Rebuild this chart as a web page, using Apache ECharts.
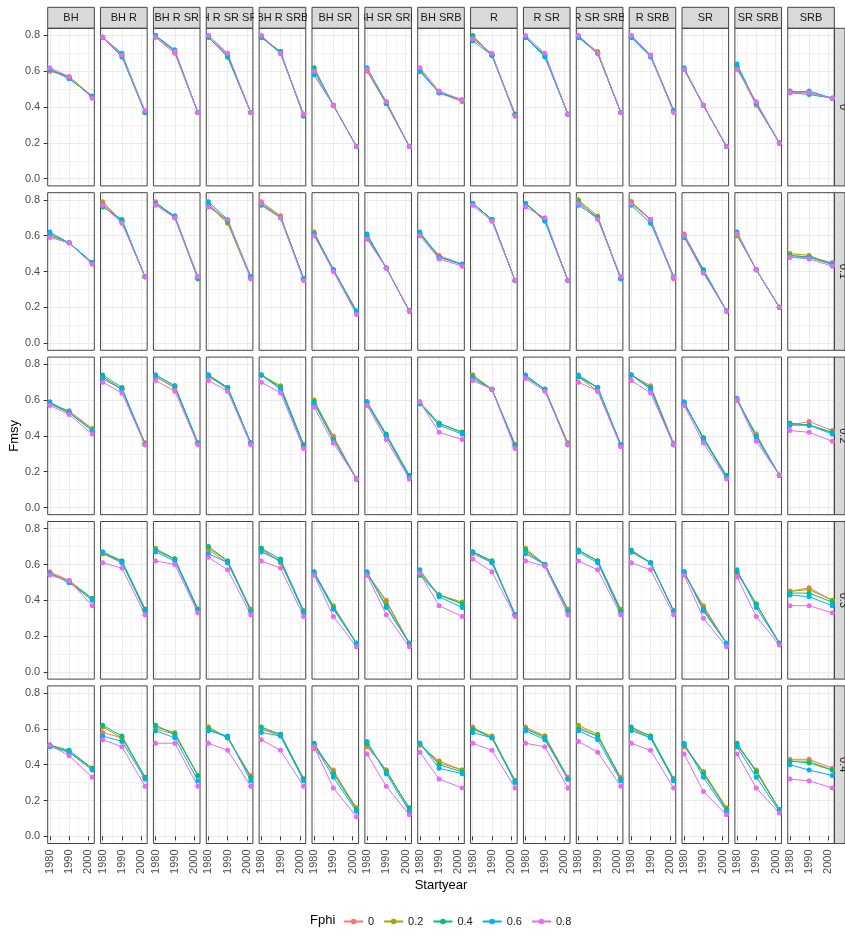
<!DOCTYPE html>
<html><head><meta charset="utf-8">
<script src="https://cdn.jsdelivr.net/npm/echarts@6/dist/echarts.min.js"></script>
<style>html,body{margin:0;padding:0;background:#fff}#c{width:845px;height:936px}</style>
</head><body><div id="c"></div>
<script>
// ---------- data ----------
const columns = ['BH','BH R','BH R SR','BH R SR SRB','BH R SRB','BH SR','BH SR SRB','BH SRB','R','R SR','R SR SRB','R SRB','SR','SR SRB','SRB'];
const rowLabels = ['0','0.1','0.2','0.3','0.4'];
const fphiLevels = ['0','0.2','0.4','0.6','0.8'];
const startYears = [1980, 1990, 2002];
const xTickLabels = [1980, 1990, 2000];
const xMinorBreaks = [1985, 1995];
const yTickLabels = [0, 0.2, 0.4, 0.6, 0.8];
const yMinorBreaks = [0.1, 0.3, 0.5, 0.7];

// each row: per column, per Fphi level [0,0.2,0.4,0.6,0.8], values for startYears
const row0 = [
 [[0.60,0.57,0.46],[0.61,0.57,0.46],[0.61,0.56,0.46],[0.61,0.56,0.46],[0.62,0.57,0.45]],
 [[0.79,0.69,0.37],[0.79,0.69,0.37],[0.79,0.68,0.37],[0.79,0.70,0.37],[0.79,0.69,0.38]],
 [[0.79,0.70,0.37],[0.80,0.71,0.37],[0.80,0.71,0.37],[0.80,0.72,0.37],[0.79,0.71,0.37]],
 [[0.80,0.69,0.37],[0.79,0.68,0.37],[0.79,0.68,0.37],[0.80,0.69,0.37],[0.80,0.70,0.37]],
 [[0.80,0.70,0.36],[0.79,0.71,0.35],[0.79,0.71,0.35],[0.79,0.70,0.36],[0.80,0.70,0.36]],
 [[0.60,0.41,0.18],[0.61,0.41,0.18],[0.62,0.41,0.18],[0.58,0.41,0.18],[0.60,0.41,0.18]],
 [[0.60,0.42,0.18],[0.61,0.42,0.18],[0.61,0.42,0.18],[0.62,0.43,0.18],[0.61,0.43,0.18]],
 [[0.61,0.48,0.43],[0.61,0.48,0.44],[0.60,0.48,0.44],[0.60,0.48,0.44],[0.62,0.49,0.44]],
 [[0.79,0.69,0.36],[0.79,0.69,0.36],[0.80,0.69,0.36],[0.77,0.69,0.35],[0.78,0.70,0.35]],
 [[0.79,0.69,0.36],[0.79,0.69,0.36],[0.79,0.69,0.36],[0.79,0.68,0.36],[0.80,0.70,0.36]],
 [[0.80,0.70,0.37],[0.79,0.71,0.37],[0.79,0.70,0.37],[0.79,0.70,0.37],[0.80,0.70,0.37]],
 [[0.80,0.69,0.38],[0.79,0.69,0.38],[0.79,0.69,0.38],[0.79,0.68,0.38],[0.80,0.69,0.37]],
 [[0.61,0.41,0.18],[0.61,0.41,0.18],[0.61,0.41,0.18],[0.62,0.41,0.18],[0.61,0.41,0.18]],
 [[0.62,0.41,0.20],[0.62,0.42,0.20],[0.63,0.42,0.20],[0.64,0.42,0.20],[0.61,0.43,0.20]],
 [[0.49,0.48,0.45],[0.49,0.48,0.45],[0.48,0.47,0.45],[0.48,0.49,0.45],[0.48,0.48,0.45]]
];
const row1 = [
 [[0.61,0.56,0.45],[0.61,0.56,0.45],[0.60,0.56,0.45],[0.62,0.56,0.45],[0.59,0.56,0.44]],
 [[0.79,0.68,0.37],[0.78,0.68,0.37],[0.76,0.69,0.37],[0.77,0.68,0.37],[0.77,0.67,0.37]],
 [[0.79,0.70,0.37],[0.78,0.70,0.36],[0.78,0.71,0.36],[0.78,0.71,0.37],[0.77,0.70,0.37]],
 [[0.78,0.68,0.37],[0.77,0.67,0.36],[0.77,0.68,0.37],[0.79,0.69,0.37],[0.76,0.69,0.36]],
 [[0.79,0.71,0.36],[0.78,0.71,0.36],[0.77,0.70,0.36],[0.78,0.70,0.36],[0.78,0.70,0.35]],
 [[0.61,0.41,0.17],[0.62,0.41,0.17],[0.61,0.41,0.18],[0.61,0.41,0.18],[0.60,0.40,0.16]],
 [[0.59,0.42,0.18],[0.60,0.42,0.18],[0.61,0.42,0.18],[0.60,0.42,0.18],[0.58,0.42,0.18]],
 [[0.61,0.49,0.44],[0.61,0.48,0.44],[0.62,0.48,0.44],[0.61,0.48,0.44],[0.60,0.47,0.43]],
 [[0.78,0.69,0.35],[0.78,0.69,0.35],[0.78,0.69,0.35],[0.78,0.69,0.35],[0.77,0.68,0.35]],
 [[0.78,0.69,0.35],[0.78,0.69,0.35],[0.78,0.69,0.35],[0.78,0.68,0.35],[0.76,0.70,0.35]],
 [[0.79,0.70,0.36],[0.80,0.71,0.36],[0.79,0.70,0.36],[0.77,0.70,0.36],[0.78,0.69,0.37]],
 [[0.79,0.69,0.36],[0.79,0.69,0.37],[0.78,0.69,0.37],[0.77,0.67,0.37],[0.78,0.69,0.37]],
 [[0.61,0.41,0.18],[0.60,0.40,0.18],[0.60,0.41,0.18],[0.59,0.40,0.18],[0.60,0.39,0.18]],
 [[0.61,0.41,0.20],[0.60,0.41,0.20],[0.61,0.41,0.20],[0.62,0.41,0.20],[0.61,0.41,0.20]],
 [[0.49,0.48,0.45],[0.50,0.49,0.44],[0.49,0.48,0.44],[0.48,0.48,0.44],[0.48,0.47,0.43]]
];
const row2 = [
 [[0.58,0.53,0.44],[0.58,0.54,0.44],[0.58,0.53,0.43],[0.59,0.53,0.43],[0.57,0.52,0.41]],
 [[0.73,0.66,0.36],[0.73,0.66,0.36],[0.74,0.67,0.35],[0.72,0.66,0.35],[0.70,0.64,0.35]],
 [[0.73,0.67,0.36],[0.73,0.67,0.36],[0.74,0.68,0.36],[0.74,0.68,0.36],[0.71,0.65,0.35]],
 [[0.74,0.67,0.36],[0.73,0.67,0.36],[0.74,0.67,0.36],[0.74,0.66,0.36],[0.71,0.65,0.35]],
 [[0.74,0.67,0.35],[0.74,0.68,0.35],[0.74,0.67,0.35],[0.74,0.66,0.34],[0.70,0.64,0.33]],
 [[0.59,0.40,0.16],[0.60,0.39,0.16],[0.59,0.38,0.16],[0.58,0.38,0.16],[0.56,0.36,0.16]],
 [[0.58,0.40,0.17],[0.58,0.40,0.17],[0.59,0.41,0.18],[0.59,0.40,0.17],[0.57,0.38,0.16]],
 [[0.59,0.47,0.42],[0.58,0.47,0.42],[0.58,0.47,0.42],[0.58,0.46,0.41],[0.59,0.42,0.38]],
 [[0.74,0.66,0.35],[0.74,0.66,0.35],[0.73,0.66,0.35],[0.72,0.66,0.34],[0.71,0.66,0.33]],
 [[0.73,0.66,0.36],[0.73,0.66,0.36],[0.73,0.66,0.35],[0.74,0.66,0.35],[0.72,0.65,0.35]],
 [[0.73,0.67,0.35],[0.73,0.65,0.35],[0.73,0.67,0.35],[0.74,0.67,0.35],[0.70,0.65,0.34]],
 [[0.74,0.68,0.36],[0.74,0.67,0.35],[0.74,0.67,0.35],[0.74,0.66,0.35],[0.71,0.64,0.35]],
 [[0.58,0.39,0.17],[0.58,0.39,0.17],[0.58,0.39,0.18],[0.59,0.38,0.17],[0.57,0.36,0.16]],
 [[0.60,0.41,0.18],[0.60,0.40,0.18],[0.60,0.40,0.18],[0.61,0.39,0.18],[0.60,0.37,0.18]],
 [[0.46,0.48,0.43],[0.47,0.46,0.42],[0.47,0.46,0.42],[0.46,0.46,0.41],[0.43,0.42,0.37]]
];
const row3 = [
 [[0.56,0.51,0.41],[0.55,0.51,0.41],[0.55,0.50,0.41],[0.55,0.50,0.40],[0.54,0.51,0.37]],
 [[0.66,0.61,0.35],[0.66,0.62,0.35],[0.67,0.62,0.35],[0.67,0.61,0.34],[0.61,0.58,0.32]],
 [[0.68,0.63,0.35],[0.69,0.63,0.35],[0.68,0.63,0.35],[0.67,0.62,0.34],[0.62,0.60,0.33]],
 [[0.68,0.61,0.35],[0.69,0.62,0.35],[0.70,0.62,0.34],[0.66,0.61,0.34],[0.64,0.57,0.32]],
 [[0.68,0.62,0.34],[0.69,0.61,0.34],[0.69,0.63,0.34],[0.67,0.62,0.33],[0.62,0.58,0.31]],
 [[0.55,0.36,0.16],[0.55,0.37,0.16],[0.56,0.36,0.16],[0.55,0.35,0.16],[0.54,0.31,0.14]],
 [[0.55,0.40,0.16],[0.55,0.39,0.16],[0.55,0.37,0.16],[0.56,0.36,0.16],[0.54,0.32,0.14]],
 [[0.56,0.43,0.38],[0.55,0.43,0.39],[0.54,0.43,0.38],[0.57,0.42,0.36],[0.55,0.37,0.31]],
 [[0.66,0.61,0.32],[0.67,0.62,0.32],[0.67,0.62,0.32],[0.67,0.61,0.32],[0.63,0.56,0.31]],
 [[0.67,0.60,0.35],[0.69,0.60,0.35],[0.68,0.60,0.34],[0.66,0.60,0.34],[0.62,0.59,0.32]],
 [[0.68,0.62,0.34],[0.68,0.62,0.35],[0.68,0.62,0.34],[0.67,0.61,0.33],[0.62,0.57,0.32]],
 [[0.67,0.61,0.34],[0.68,0.61,0.34],[0.68,0.61,0.34],[0.67,0.61,0.34],[0.61,0.57,0.32]],
 [[0.55,0.37,0.16],[0.55,0.36,0.16],[0.56,0.35,0.16],[0.56,0.34,0.16],[0.54,0.30,0.14]],
 [[0.55,0.38,0.16],[0.56,0.38,0.16],[0.56,0.38,0.16],[0.57,0.36,0.16],[0.53,0.31,0.15]],
 [[0.45,0.47,0.40],[0.45,0.46,0.40],[0.44,0.44,0.39],[0.43,0.42,0.37],[0.37,0.37,0.33]]
];
const row4 = [
 [[0.51,0.47,0.38],[0.51,0.47,0.38],[0.51,0.48,0.38],[0.50,0.47,0.37],[0.51,0.45,0.33]],
 [[0.58,0.55,0.33],[0.61,0.55,0.33],[0.62,0.56,0.33],[0.56,0.53,0.32],[0.54,0.50,0.28]],
 [[0.60,0.57,0.34],[0.61,0.58,0.34],[0.62,0.57,0.34],[0.59,0.55,0.31],[0.52,0.52,0.28]],
 [[0.61,0.55,0.34],[0.61,0.55,0.33],[0.60,0.55,0.33],[0.59,0.56,0.31],[0.52,0.48,0.28]],
 [[0.60,0.56,0.32],[0.60,0.57,0.32],[0.61,0.57,0.32],[0.58,0.56,0.31],[0.54,0.48,0.28]],
 [[0.49,0.37,0.15],[0.51,0.36,0.16],[0.52,0.35,0.15],[0.51,0.33,0.14],[0.50,0.27,0.11]],
 [[0.50,0.37,0.15],[0.51,0.37,0.15],[0.52,0.36,0.16],[0.53,0.35,0.14],[0.46,0.28,0.12]],
 [[0.51,0.41,0.37],[0.51,0.42,0.37],[0.52,0.40,0.36],[0.52,0.38,0.35],[0.47,0.32,0.27]],
 [[0.61,0.55,0.31],[0.60,0.56,0.31],[0.60,0.55,0.31],[0.58,0.55,0.30],[0.52,0.48,0.27]],
 [[0.61,0.56,0.33],[0.60,0.56,0.32],[0.60,0.55,0.32],[0.59,0.54,0.32],[0.52,0.50,0.27]],
 [[0.61,0.56,0.33],[0.62,0.57,0.32],[0.60,0.56,0.32],[0.59,0.54,0.31],[0.53,0.47,0.28]],
 [[0.60,0.55,0.32],[0.60,0.56,0.32],[0.61,0.56,0.32],[0.59,0.55,0.31],[0.52,0.48,0.27]],
 [[0.50,0.36,0.15],[0.51,0.36,0.16],[0.51,0.35,0.15],[0.52,0.33,0.14],[0.46,0.25,0.12]],
 [[0.51,0.36,0.15],[0.51,0.37,0.15],[0.52,0.36,0.15],[0.50,0.33,0.14],[0.46,0.27,0.13]],
 [[0.43,0.43,0.38],[0.42,0.42,0.37],[0.42,0.41,0.37],[0.40,0.37,0.34],[0.32,0.31,0.27]]
];
const rows = [row0, row1, row2, row3, row4];

// ---------- styling / layout ----------
const colors = ['#F8766D','#A3A500','#00BF7D','#00B0F6','#E76BF3'];
const FF = '"Liberation Sans", Arial, sans-serif';
const L0 = 47.7, PW = 46.6, PX = 52.86;
const T0 = 28.3, PH = 157.6, PY = 164.4;
const STRIP_H = 21, STRIP_W = 22;
const XMIN = 1978.9, XMAX = 2003.1, YMIN = -0.04, YMAX = 0.84;
const BORDER = '#444444';

const grids = [], xAxes = [], yAxes = [], series = [];

function hiddenAxis(g, min, max) {
  return {type:'value', gridIndex:g, min:min, max:max, show:false,
          axisLine:{show:false}, axisTick:{show:false}, axisLabel:{show:false}, splitLine:{show:false}};
}
function stripSeries(xi, yi, text, rot, xPos) {
  return {type:'custom', xAxisIndex:xi, yAxisIndex:yi, clip:true, silent:true, z:5,
    data:[[xPos, 0.5]],
    renderItem:function(params, api){
      const p = api.coord([api.value(0), api.value(1)]);
      return {type:'text', x:p[0], y:p[1], rotation:rot,
        style:{text:text, fontSize:11, fill:'#1A1A1A', fontFamily:FF, align:'center', verticalAlign:'middle'}};
    }};
}

for (let r = 0; r < rowLabels.length; r++) {
  for (let c = 0; c < columns.length; c++) {
    const left = L0 + c * PX, top = T0 + r * PY;
    const g = grids.length;
    grids.push({left:left, top:top, width:PW, height:PH, show:true, z:3,
                backgroundColor:'rgba(0,0,0,0)', borderColor:BORDER, borderWidth:1});
    const xi = xAxes.length, yi = yAxes.length;
    const bottom = r === rowLabels.length - 1, first = c === 0;
    xAxes.push({type:'value', gridIndex:g, min:XMIN, max:XMAX,
      axisLine:{show:false},
      axisTick:{show:bottom, customValues:xTickLabels, length:4, lineStyle:{color:'#333', width:1}},
      axisLabel:{show:bottom, customValues:xTickLabels, rotate:90, margin:6, fontSize:11, color:'#4D4D4D', fontFamily:FF,
                 formatter:function(v){return String(Math.round(v));}},
      splitLine:{show:true, lineStyle:{color:'#EBEBEB', width:1}},
      name:(bottom && c === 7) ? 'Startyear' : '', nameLocation:'middle', nameGap:35,
      nameTextStyle:{fontSize:13, color:'#000', fontFamily:FF}});
    xAxes.push({type:'value', gridIndex:g, min:XMIN, max:XMAX,
      axisLine:{show:false}, axisTick:{show:false, customValues:xMinorBreaks}, axisLabel:{show:false},
      splitLine:{show:true, lineStyle:{color:'#F4F4F4', width:1}}});
    yAxes.push({type:'value', gridIndex:g, min:YMIN, max:YMAX,
      axisLine:{show:false},
      axisTick:{show:first, customValues:yTickLabels, length:4, lineStyle:{color:'#333', width:1}},
      axisLabel:{show:first, customValues:yTickLabels, margin:7.5, fontSize:11, color:'#4D4D4D', fontFamily:FF,
                 formatter:function(v){return v.toFixed(1);}},
      splitLine:{show:true, lineStyle:{color:'#EBEBEB', width:1}},
      name:(first && r === 2) ? 'Fmsy' : '', nameLocation:'middle', nameRotate:90, nameGap:23,
      nameTextStyle:{fontSize:13, color:'#000', fontFamily:FF}});
    yAxes.push({type:'value', gridIndex:g, min:YMIN, max:YMAX,
      axisLine:{show:false}, axisTick:{show:false, customValues:yMinorBreaks}, axisLabel:{show:false},
      splitLine:{show:true, lineStyle:{color:'#F4F4F4', width:1}}});
    const panel = rows[r][c];
    for (let k = 0; k < fphiLevels.length; k++) {
      series.push({type:'line', name:fphiLevels[k], xAxisIndex:xi, yAxisIndex:yi,
        data:startYears.map(function(yr, i){return [yr, panel[k][i]];}),
        symbol:'circle', symbolSize:5, showSymbol:true, silent:true, animation:false,
        color:colors[k], lineStyle:{width:1, color:colors[k]}, itemStyle:{color:colors[k]}});
    }
  }
}
// top strips
for (let c = 0; c < columns.length; c++) {
  const g = grids.length;
  grids.push({left:L0 + c * PX, top:T0 - STRIP_H, width:PW, height:STRIP_H, show:true, z:1,
              backgroundColor:'#D9D9D9', borderColor:BORDER, borderWidth:1});
  const xi = xAxes.length, yi = yAxes.length;
  xAxes.push(hiddenAxis(g, 0, 1)); yAxes.push(hiddenAxis(g, 0, 1));
  series.push(stripSeries(xi, yi, columns[c], 0, 0.5));
}
// right strips
for (let r = 0; r < rowLabels.length; r++) {
  const g = grids.length;
  grids.push({left:L0 + (columns.length - 1) * PX + PW, top:T0 + r * PY, width:STRIP_W, height:PH, show:true, z:1,
              backgroundColor:'#D9D9D9', borderColor:BORDER, borderWidth:1});
  const xi = xAxes.length, yi = yAxes.length;
  xAxes.push(hiddenAxis(g, 0, 1)); yAxes.push(hiddenAxis(g, 0, 1));
  series.push(stripSeries(xi, yi, rowLabels[r], -Math.PI / 2, 0.78));
}

const chart = echarts.init(document.getElementById('c'), null, {renderer:'canvas'});
chart.setOption({
  backgroundColor:'#ffffff',
  animation:false,
  title:{text:'Fphi', left:310, top:914, padding:0,
         textStyle:{fontSize:13, fontWeight:'normal', color:'#000', fontFamily:FF}},
  legend:{data:fphiLevels, left:343, top:916, padding:0, itemWidth:19, itemHeight:7, itemGap:9,
          textStyle:{fontSize:11, color:'#1A1A1A', fontFamily:FF}},
  grid:grids, xAxis:xAxes, yAxis:yAxes, series:series
});
</script></body></html>
